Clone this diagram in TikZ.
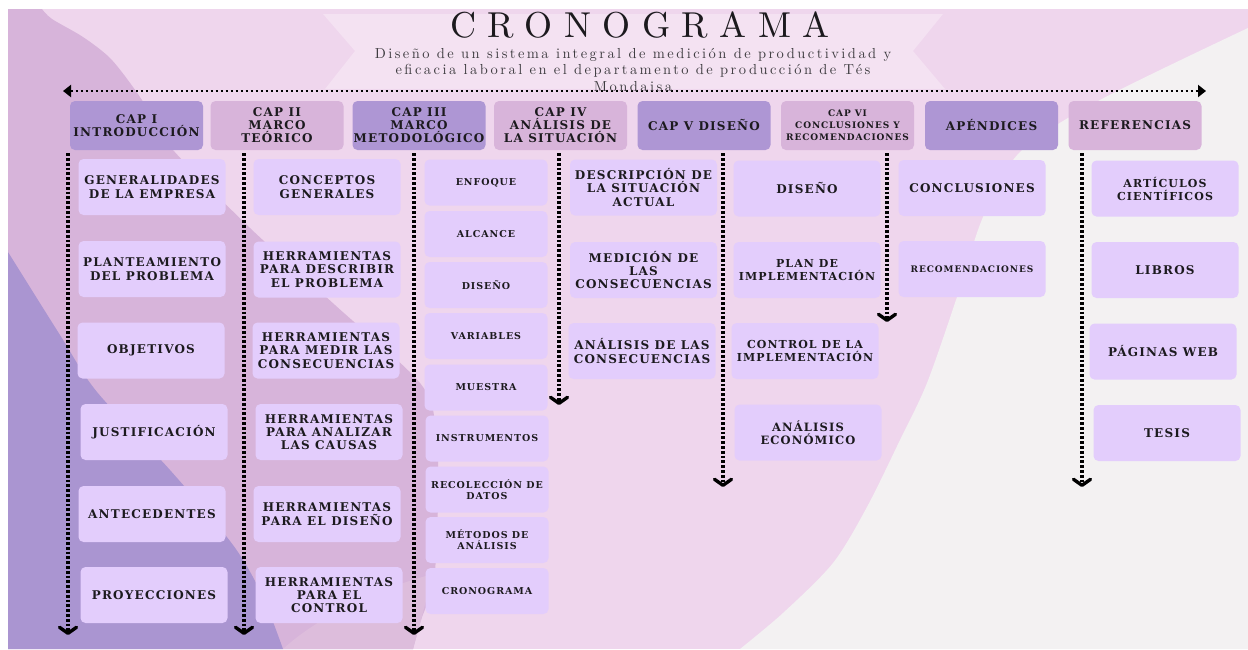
\documentclass[tikz,border=0pt]{standalone}
\usepackage{fontspec}
\usetikzlibrary{arrows.meta}
\newfontfamily\boxfont{DejaVu Serif}[LetterSpace=10]
\newfontfamily\titlefont{lmroman10-regular}[Extension=.otf, LetterSpace=32]
\newfontfamily\subfont{lmroman10-regular}[Extension=.otf, LetterSpace=17]

\definecolor{bgpink}{HTML}{EFD6ED}
\definecolor{bggray}{HTML}{F3F1F2}
\definecolor{bgmauve}{HTML}{D7B4DA}
\definecolor{bgpurple}{HTML}{AA95D1}
\definecolor{bgwedge}{HTML}{DDBDDC}
\definecolor{banner}{HTML}{F4E2F2}
\definecolor{subfill}{HTML}{E3CDFC}
\definecolor{chapA}{HTML}{AE96D4}
\definecolor{chapB}{HTML}{D8B4DA}
\definecolor{ink}{HTML}{1C1A1E}

\tikzset{
  base/.style={rounded corners=5pt, inner sep=1pt, align=center, text=ink},
  chapdark/.style={base, fill=chapA, minimum width=133pt, minimum height=49pt,
    font=\boxfont\bfseries\fontsize{12}{13}\selectfont},
  chaplight/.style={chapdark, fill=chapB},
  item/.style={base, fill=subfill, minimum width=147pt, minimum height=56pt,
    font=\boxfont\bfseries\fontsize{12}{13.3}\selectfont},
  itemsmall/.style={item, font=\boxfont\bfseries\fontsize{11}{13}\selectfont},
  method/.style={base, fill=subfill, minimum width=123pt, minimum height=46pt,
    font=\boxfont\bfseries\fontsize{9.5}{11}\selectfont},
  timeline/.style={line width=2.8pt, dash pattern=on 2.8pt off 2.2pt,
    {Triangle[length=8pt,width=12pt]}-{Triangle[length=8pt,width=12pt]}},
  chapline/.style={line width=3.4pt, dash pattern=on 2.8pt off 2pt,
    -{Straight Barb[length=6pt,width=17pt,round]}}
}

\begin{document}
\begin{tikzpicture}[x=1pt,y=-1pt]
\useasboundingbox (0,0) rectangle (1248,649);

% background layers
\fill[white] (0,0) rectangle (1248,649);
\fill[bgpink] (8,9) rectangle (1248,649);
\fill[bggray] plot[smooth] coordinates {(1248,28) (1100,100) (1020,152) (983,217) (957,297)
  (927,383) (900,440) (867,507) (833,563) (783,613) (740,649)} -- (1248,649) -- cycle;
\fill[bgmauve] (8,9) -- plot[smooth] coordinates {(42,9) (52,19) (83,37) (110,58) (133,87)
  (153,117) (173,150) (250,228) (335,305) (420,383) (436,430) (438,500) (434,580)
  (421,620) (413,649)} -- (8,649) -- cycle;
\fill[bgwedge] (283,649) .. controls (320,615) and (380,588) .. (433,574)
  -- (421,620) -- (413,649) -- cycle;
\fill[bgpurple] (8,250) -- plot[smooth] coordinates {(8,252) (60,335) (97,392) (170,470)
  (233,545) (262,595) (283,649)} -- (8,649) -- cycle;
\fill[banner] (323,14) -- (943,14) -- (913,51) -- (945,89) -- (325,89) -- (355,51) -- cycle;

% time line
\coordinate (tl) at (63,91);
\coordinate (tr) at (1206,91);
\draw[timeline] (tl) -- (tr);

% title
\node[text=ink, inner sep=0pt, font=\titlefont\fontsize{36}{36}\selectfont]
  (title) at (640,25.5) {CRONOGRAMA};
\node[text=ink!85, align=center, inner sep=0pt, font=\subfont\fontsize{14.5}{16.5}\selectfont]
  (subtitle) at (633,70) {Diseño de un sistema integral de medición de productividad y\\
  eficacia laboral en el departamento de producción de Tés\\Mondaisa};

% chapters
\node[chapdark]  (h1) at (136.5,125.5) {CAP I\\INTRODUCCIÓN};
\node[chaplight] (h2) at (277,125.5) {CAP II\\MARCO\\TEÓRICO};
\node[chapdark]  (h3) at (419,125.5) {CAP III\\MARCO\\METODOLÓGICO};
\node[chaplight] (h4) at (560.5,125.5) {CAP IV\\ANÁLISIS DE\\LA SITUACIÓN};
\node[chapdark]  (h5) at (704,125.5) {CAP V DISEÑO};
\node[chaplight, font=\boxfont\bfseries\fontsize{9}{12}\selectfont]
  (h6) at (847.5,125.5) {CAP VI\\CONCLUSIONES Y\\RECOMENDACIONES};
\node[chapdark]  (h7) at (991.5,125.5) {APÉNDICES};
\node[chaplight] (h8) at (1135,125.5) {REFERENCIAS};

% chapter lines
\coordinate (e1) at (68,635);
\coordinate (e2) at (244,635);
\coordinate (e3) at (414,635);
\coordinate (e4) at (559,405);
\coordinate (e5) at (723,487);
\coordinate (e6) at (887,322);
\coordinate (e7) at (1082,487);
\draw[chapline, shorten <=3pt] (e1 |- h1.south) -- (e1);
\draw[chapline, shorten <=3pt] (e2 |- h2.south) -- (e2);
\draw[chapline, shorten <=3pt] (e3 |- h3.south) -- (e3);
\draw[chapline, shorten <=3pt] (e4 |- h4.south) -- (e4);
\draw[chapline, shorten <=3pt] (e5 |- h5.south) -- (e5);
\draw[chapline, shorten <=3pt] (e6 |- h6.south) -- (e6);
\draw[chapline, shorten <=3pt] (e7 |- h8.south) -- (e7);

% CAP I
\node[item] (a1) at (152,187) {GENERALIDADES\\DE LA EMPRESA};
\node[item] (a2) at (152,269) {PLANTEAMIENTO\\DEL PROBLEMA};
\node[item] (a3) at (151,350.5) {OBJETIVOS};
\node[item] (a4) at (154,432) {JUSTIFICACIÓN};
\node[item] (a5) at (152,514) {ANTECEDENTES};
\node[item] (a6) at (154,595) {PROYECCIONES};

% CAP II
\node[item] (b1) at (327,187) {CONCEPTOS\\GENERALES};
\node[item] (b2) at (327,269.5) {HERRAMIENTAS\\PARA DESCRIBIR\\EL PROBLEMA};
\node[item] (b3) at (326,350.5) {HERRAMIENTAS\\PARA MEDIR LAS\\CONSECUENCIAS};
\node[item] (b4) at (329,432) {HERRAMIENTAS\\PARA ANALIZAR\\LAS CAUSAS};
\node[item] (b5) at (327,514) {HERRAMIENTAS\\PARA EL DISEÑO};
\node[item] (b6) at (329,595) {HERRAMIENTAS\\PARA EL\\CONTROL};

% CAP III
\node[method] (c1) at (486,182.5) {ENFOQUE};
\node[method] (c2) at (486,234) {ALCANCE};
\node[method] (c3) at (486,285) {DISEÑO};
\node[method] (c4) at (486,336) {VARIABLES};
\node[method] (c5) at (486,387.5) {MUESTRA};
\node[method] (c6) at (487,438.5) {INSTRUMENTOS};
\node[method] (c7) at (487,489.5) {RECOLECCIÓN DE\\DATOS};
\node[method] (c8) at (487,540) {MÉTODOS DE\\ANÁLISIS};
\node[method] (c9) at (487,591) {CRONOGRAMA};

% CAP IV
\node[item] (d1) at (643.5,187.5) {DESCRIPCIÓN DE\\LA SITUACIÓN\\ACTUAL};
\node[item] (d2) at (643.5,270) {MEDICIÓN DE\\LAS\\CONSECUENCIAS};
\node[item] (d3) at (642,351) {ANÁLISIS DE LAS\\CONSECUENCIAS};

% CAP V
\node[item] (f1) at (807,188.5) {DISEÑO};
\node[itemsmall] (f2) at (807,270) {PLAN DE\\IMPLEMENTACIÓN};
\node[itemsmall] (f3) at (805,351) {CONTROL DE LA\\IMPLEMENTACIÓN};
\node[item, font=\boxfont\bfseries\fontsize{11.5}{13}\selectfont] (f4) at (808,432.5) {ANÁLISIS\\ECONÓMICO};

% CAP VI
\node[item] (g1) at (972,188) {CONCLUSIONES};
\node[item, font=\boxfont\bfseries\fontsize{9}{11}\selectfont] (g2) at (972,269) {RECOMENDACIONES};

% REFERENCIAS
\node[item, font=\boxfont\bfseries\fontsize{11}{13}\selectfont] (r1) at (1165,188.5) {ARTÍCULOS\\CIENTÍFICOS};
\node[item] (r2) at (1165,270) {LIBROS};
\node[item] (r3) at (1163,351.5) {PÁGINAS WEB};
\node[item] (r4) at (1167,433) {TESIS};
\end{tikzpicture}
\end{document}
